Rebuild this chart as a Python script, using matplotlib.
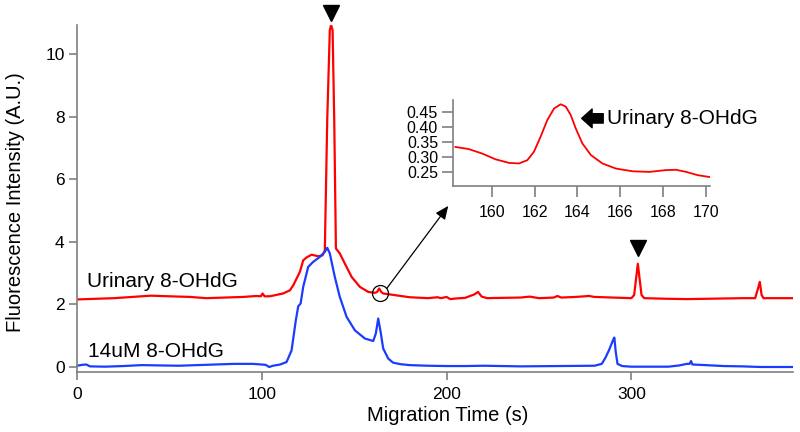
import matplotlib
matplotlib.use('Agg')
import matplotlib.pyplot as plt
import numpy as np

plt.rcParams['font.family'] = ['Liberation Sans', 'DejaVu Sans']

# urinary sample trace (red)
urine_time = [0, 10, 20, 30, 40, 50, 61, 70, 80, 90, 97.1, 99.5, 100.4, 101.5, 104.3,
              111.5, 115.2, 117.0, 120.6, 122.4, 124.2, 126.9, 130.5, 132.9, 134.1,
              135.4, 136.8, 137.5, 138.3, 139.2, 140.1, 142.2, 144.9, 148.6, 153.1,
              157.6, 161.2, 162.4, 163.5, 164.6, 165.7, 169.3, 180, 190, 195, 197,
              200, 202, 205, 210, 215, 217, 219, 222, 230, 240, 245, 250, 258, 260,
              262, 270, 277, 280, 290, 300, 301.5, 302.5, 303.5, 304.5, 305.5, 307,
              320, 330, 340, 350, 360, 367, 368.5, 369.5, 370.5, 371.5, 380, 388]
urine_signal = [2.16, 2.18, 2.2, 2.24, 2.28, 2.26, 2.24, 2.2, 2.22, 2.24, 2.27, 2.26,
                2.35, 2.26, 2.26, 2.35, 2.45, 2.61, 3.04, 3.41, 3.5, 3.59, 3.54, 3.57,
                3.73, 7.89, 10.77, 10.93, 10.77, 7.89, 3.79, 3.63, 3.31, 2.88, 2.56,
                2.4, 2.37, 2.4, 2.51, 2.4, 2.35, 2.32, 2.23, 2.2, 2.23, 2.2, 2.24,
                2.17, 2.19, 2.21, 2.32, 2.4, 2.25, 2.2, 2.21, 2.22, 2.25, 2.2, 2.22,
                2.27, 2.22, 2.24, 2.27, 2.24, 2.22, 2.2, 2.3, 2.8, 3.3, 2.8, 2.3, 2.2,
                2.18, 2.17, 2.18, 2.19, 2.2, 2.2, 2.5, 2.72, 2.3, 2.2, 2.2, 2.2]

# 14uM standard trace (blue)
std_time = [0, 3, 5, 7, 15, 25, 35, 45, 55, 65, 75, 85, 95, 102, 104, 106, 110, 113.4,
            116.1, 118.4, 119.7, 121.0, 122.4, 125.1, 127.8, 131.4, 134.1, 135.4,
            136.8, 139.5, 142.2, 145.9, 150.4, 155.8, 160.3, 161.7, 163.0, 164.3,
            165.7, 168.4, 171, 175, 180, 190, 200, 210, 220, 240, 260, 280, 284,
            286, 288, 290, 290.8, 291.5, 292.5, 295, 300, 310, 320, 326, 330, 331.5,
            332.3, 333, 340, 350, 360, 370, 388]
std_signal = [0.04, 0.07, 0.08, 0.02, 0.01, 0.03, 0.06, 0.05, 0.04, 0.06, 0.08, 0.1,
              0.1, 0.07, 0.0, 0.04, 0.08, 0.16, 0.53, 1.49, 1.94, 2.03, 2.56, 3.2,
              3.36, 3.52, 3.68, 3.81, 3.63, 2.88, 2.24, 1.6, 1.17, 0.91, 0.83, 1.07,
              1.55, 1.12, 0.59, 0.27, 0.14, 0.09, 0.06, 0.04, 0.03, 0.03, 0.04, 0.02,
              0.03, 0.04, 0.1, 0.3, 0.55, 0.85, 0.94, 0.5, 0.1, 0.03, 0.01, 0.01,
              0.01, 0.05, 0.1, 0.1, 0.19, 0.08, 0.06, 0.03, 0.02, 0.0, 0.0]

# zoomed urinary 8-OHdG peak
zoom_time = [158.30, 158.92, 159.55, 160.17, 160.80, 161.27, 161.66, 161.97, 162.28,
             162.59, 162.91, 163.22, 163.46, 163.69, 163.92, 164.23, 164.63, 165.17,
             165.80, 166.58, 167.36, 168.14, 168.61, 169.08, 169.63, 170.17]
zoom_signal = [0.335, 0.328, 0.313, 0.294, 0.282, 0.280, 0.291, 0.319, 0.369, 0.424,
               0.463, 0.477, 0.469, 0.441, 0.397, 0.347, 0.308, 0.280, 0.263, 0.254,
               0.252, 0.258, 0.259, 0.252, 0.241, 0.235]

peak_marks_time = [137.3, 303.5]
peak_marks_y = [11.31, 3.79]

gray = '#7f7f7f'

fig = plt.figure(figsize=(8, 4.32), dpi=100)
ax = fig.add_axes([0.0963, 0.1389, 0.895, 0.803])

ax.plot(urine_time, urine_signal, color='#ff0000', linewidth=1.6,
        solid_joinstyle='round')
ax.plot(std_time, std_signal, color='#1a3cff', linewidth=1.6,
        solid_joinstyle='round')

ax.plot(peak_marks_time, peak_marks_y, linestyle='none', marker='v', color='k',
        markersize=11, clip_on=False)

ax.plot([163.9], [2.35], linestyle='none', marker='o', markersize=11.5,
        markerfacecolor='none', markeredgecolor='k', markeredgewidth=0.9)
ax.annotate('', xy=(200.9, 5.15), xytext=(167.6, 2.51),
            arrowprops=dict(arrowstyle='-|>,head_length=0.8,head_width=0.35',
                            color='k', lw=0.9, shrinkA=0, shrinkB=0))

ax.text(5.4, 2.72, 'Urinary 8-OHdG', fontsize=15, va='center', ha='left')
ax.text(5.8, 0.5, '14uM 8-OHdG', fontsize=15, va='center', ha='left')

ax.set_xlim(0, 387.5)
ax.set_ylim(-0.16, 10.93)
ax.set_xticks([0, 100, 200, 300])
ax.set_yticks([0, 2, 4, 6, 8, 10])
for side in ['top', 'right']:
    ax.spines[side].set_visible(False)
for side in ['left', 'bottom']:
    ax.spines[side].set_color(gray)
    ax.spines[side].set_linewidth(1.2)
ax.tick_params(direction='out', length=6, width=1.2, color=gray, labelsize=12.5)
ax.tick_params(axis='x', pad=5)
ax.tick_params(axis='y', pad=3)
ax.set_xlabel('Migration Time (s)', fontsize=14.5)
ax.set_ylabel('Fluorescence Intensity (A.U.)', fontsize=14.5)
ax.xaxis.set_label_coords(0.518, -0.097)
ax.yaxis.set_label_coords(-0.073, 0.49)

# inset
ins = fig.add_axes([0.5666, 0.5694, 0.321, 0.199])
ins.plot(zoom_time, zoom_signal, color='#ff0000', linewidth=1.3,
         solid_joinstyle='round')
ins.set_xlim(158.2, 170.2)
ins.set_ylim(0.205, 0.491)
ins.set_xticks([160, 162, 164, 166, 168, 170])
ins.set_yticks([0.25, 0.30, 0.35, 0.40, 0.45])
ins.set_yticklabels(['0.25', '0.30', '0.35', '0.40', '0.45'])
ins.patch.set_alpha(0)
for side in ['top', 'right']:
    ins.spines[side].set_visible(False)
for side in ['left', 'bottom']:
    ins.spines[side].set_color(gray)
    ins.spines[side].set_linewidth(1.2)
ins.tick_params(direction='out', length=8, width=1.2, color=gray, labelsize=11.5)
ins.tick_params(axis='x', pad=6)
ins.tick_params(axis='y', pad=3)

ins.annotate('Urinary 8-OHdG', xy=(164.2, 0.43), xytext=(165.4, 0.43),
             fontsize=15, va='center', ha='left',
             arrowprops=dict(arrowstyle='simple,head_length=0.5,head_width=0.9,tail_width=0.45',
                             color='k', shrinkA=1, shrinkB=0))

fig.savefig('out.png', dpi=100)
